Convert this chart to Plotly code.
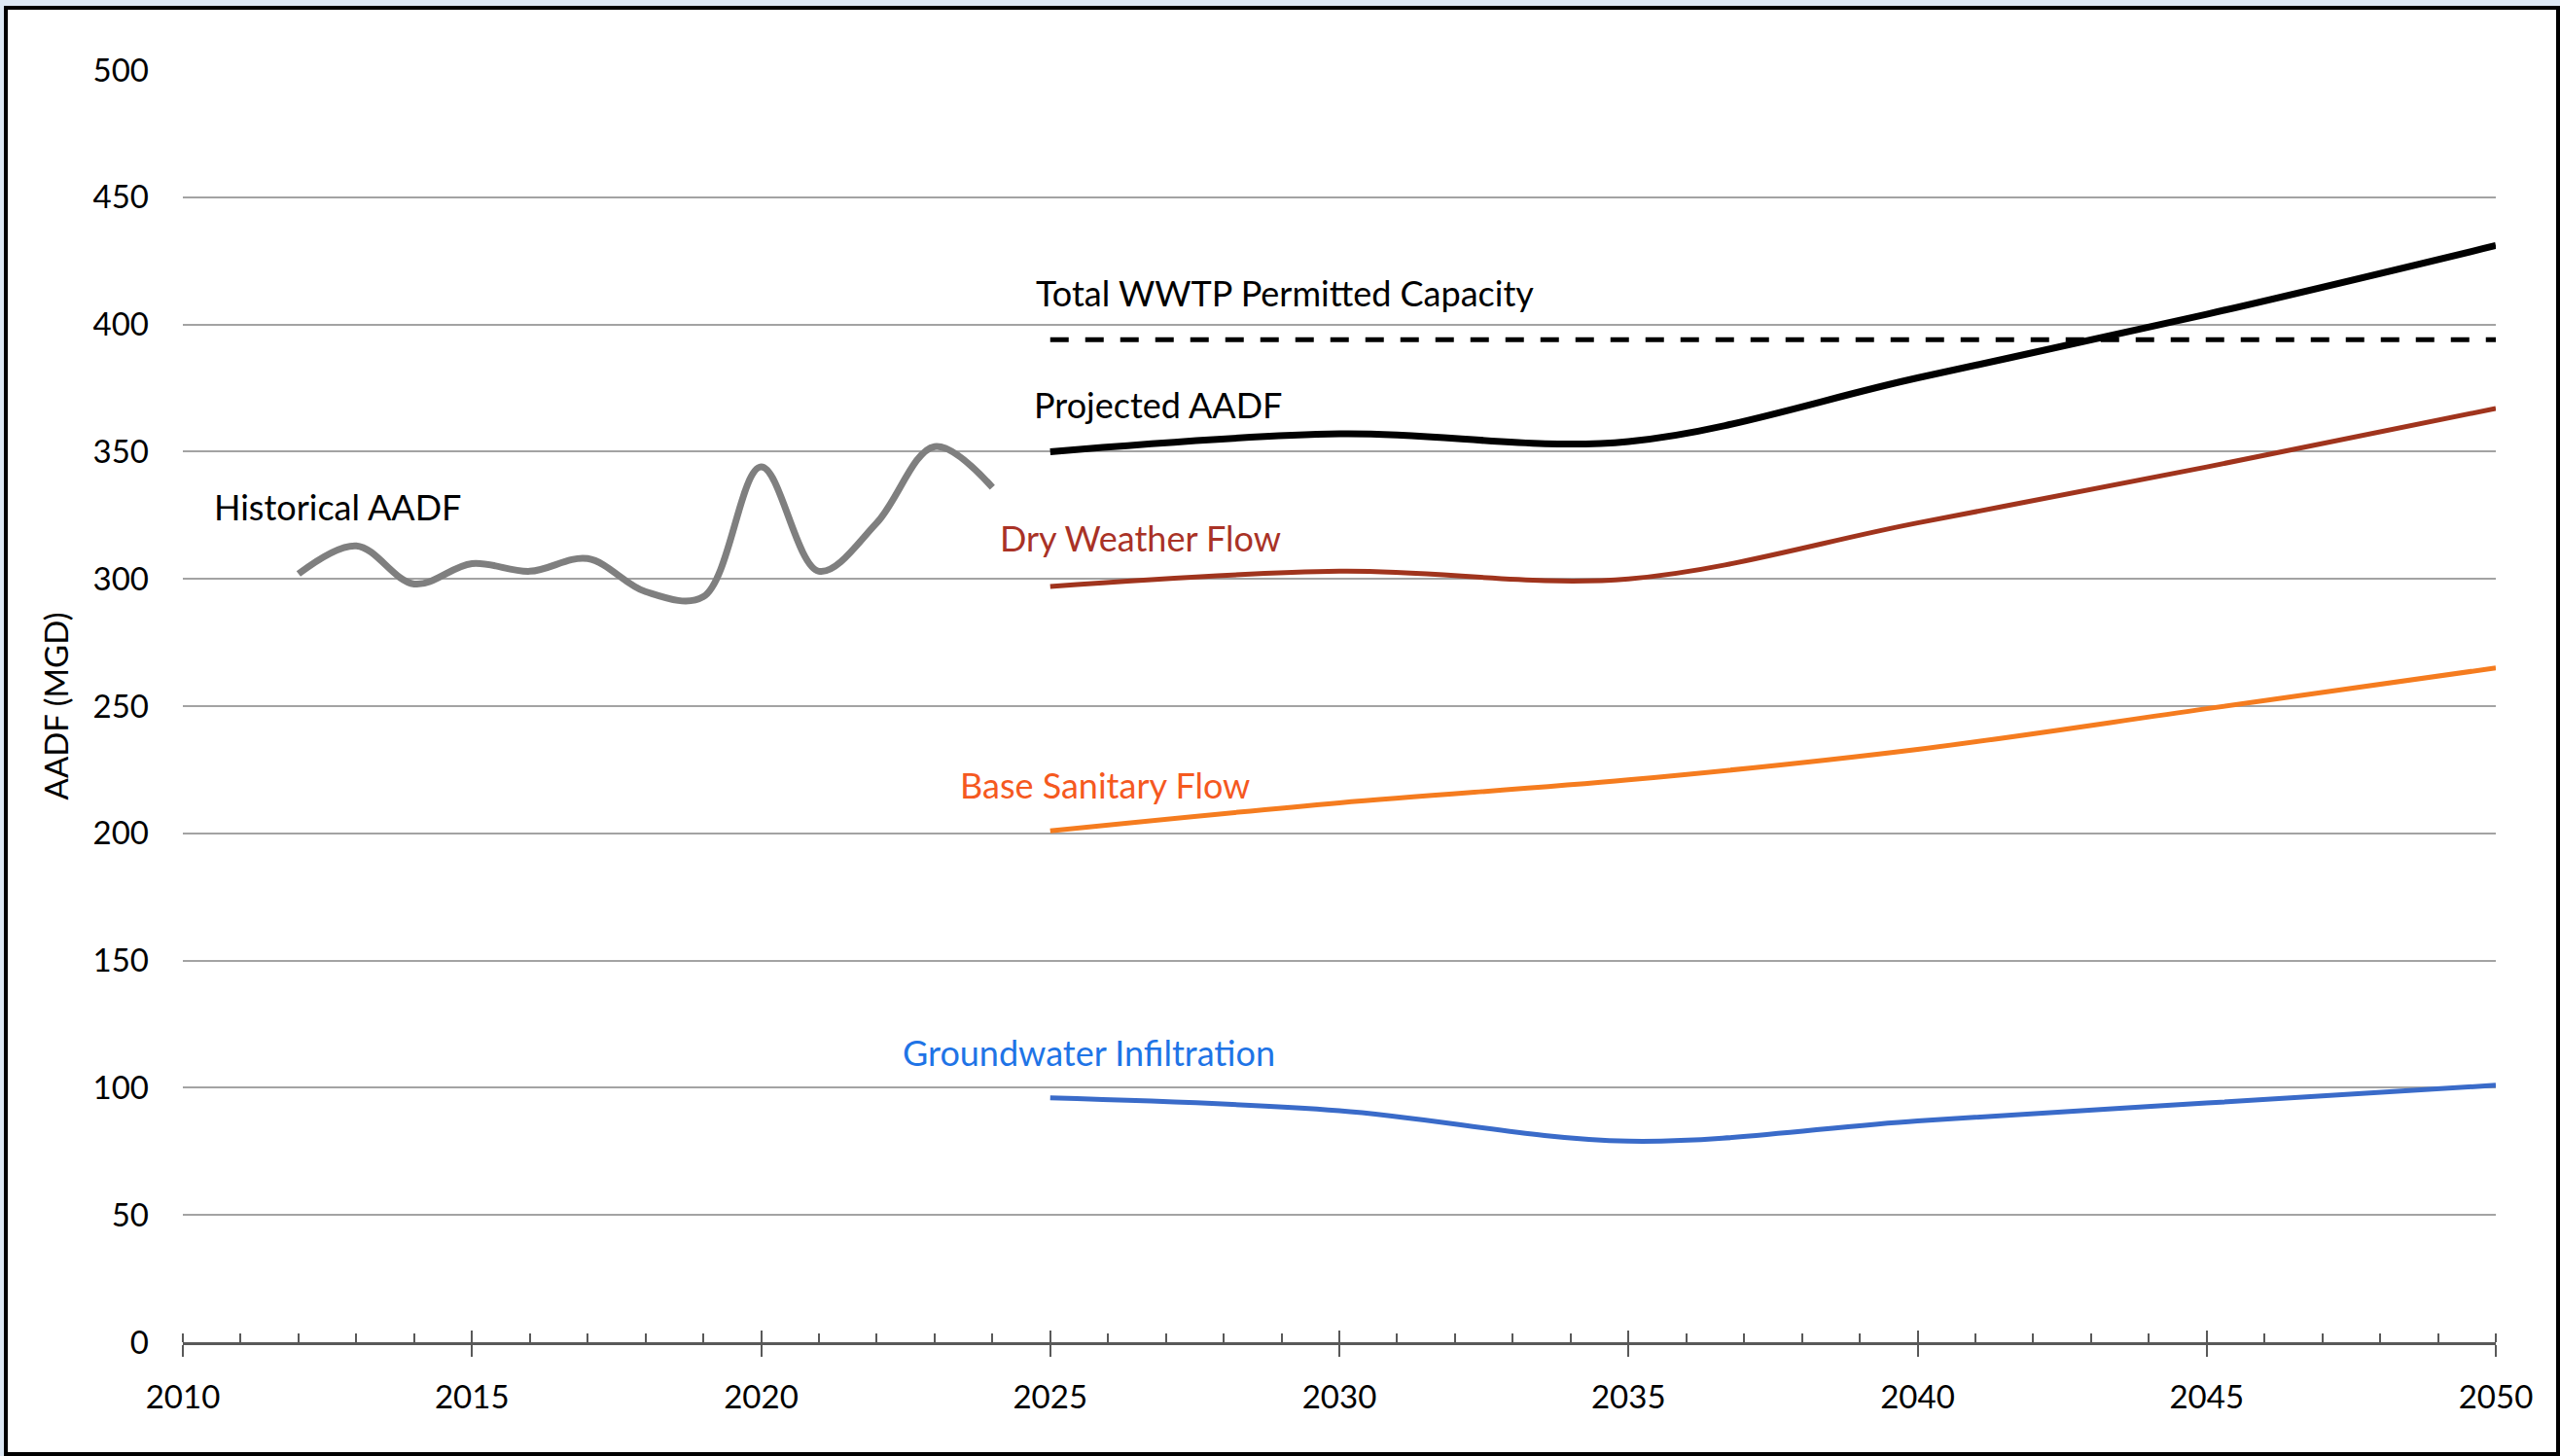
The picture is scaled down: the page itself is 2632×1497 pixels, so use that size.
import plotly.graph_objects as go

# ---------------- data ----------------
hist_years = [2012, 2013, 2014, 2015, 2016, 2017, 2018, 2019, 2020, 2021, 2022, 2023, 2024]
hist_aadf = [302, 313, 298, 306, 303, 308, 295, 293, 344, 303, 322, 352, 336]

proj_years = [2025, 2030, 2035, 2040, 2045, 2050]
projected_aadf = [350, 357, 354, 379, 404, 431]
dry_weather = [297, 303, 300, 322, 344, 367]
base_sanitary = [201, 212, 221, 233, 249, 265]
groundwater = [96, 91, 79, 87, 94, 101]

cap_years = [2025, 2050]
cap_value = [394, 394]

x_ticks = [2010, 2015, 2020, 2025, 2030, 2035, 2040, 2045, 2050]
y_ticks = [0, 50, 100, 150, 200, 250, 300, 350, 400, 450, 500]

# ---------------- layout constants ----------------
W, H = 2632, 1497
L, R, T, B = 188, 66, 72, 117
PW, PH = W - L - R, H - T - B
FONT = "Lato"
FS = 33
FS_LABEL = 36


def px_x(p):
    return (p - L) / PW


def px_y(p):
    return (H - B - p) / PH


fig = go.Figure()

fig.add_trace(go.Scatter(x=hist_years, y=hist_aadf, mode="lines",
                         line=dict(color="#7f7f7f", width=7, shape="spline"),
                         name="Historical AADF"))
fig.add_trace(go.Scatter(x=proj_years, y=groundwater, mode="lines",
                         line=dict(color="#3a6bc9", width=5, shape="spline"),
                         name="Groundwater Infiltration"))
fig.add_trace(go.Scatter(x=proj_years, y=base_sanitary, mode="lines",
                         line=dict(color="#f57c1f", width=5, shape="spline"),
                         name="Base Sanitary Flow"))
fig.add_trace(go.Scatter(x=proj_years, y=dry_weather, mode="lines",
                         line=dict(color="#a0341d", width=5, shape="spline"),
                         name="Dry Weather Flow"))
fig.add_trace(go.Scatter(x=cap_years, y=cap_value, mode="lines", xaxis="x2",
                         line=dict(color="black", width=5, dash="19px,17px"),
                         name="Total WWTP Permitted Capacity"))
fig.add_trace(go.Scatter(x=proj_years, y=projected_aadf, mode="lines",
                         line=dict(color="black", width=7, shape="spline"),
                         name="Projected AADF"))

labels = [
    ("Historical AADF", 2010.50, 328.5, "black"),
    ("Total WWTP Permitted Capacity", 2024.71, 412.5, "black"),
    ("Projected AADF", 2024.68, 368.5, "black"),
    ("Dry Weather Flow", 2024.09, 316.3, "#a93226"),
    ("Base Sanitary Flow", 2023.41, 219.0, "#f5591f"),
    ("Groundwater Infiltration", 2022.42, 114.0, "#1f74e6"),
]
for txt, lx, ly, col in labels:
    fig.add_annotation(x=lx, y=ly, xref="x", yref="y", text=txt, showarrow=False,
                       xanchor="left", yanchor="middle",
                       font=dict(family=FONT, size=FS_LABEL, color=col))

# outer frame
fig.add_shape(type="rect", xref="paper", yref="paper",
              x0=px_x(6), x1=px_x(2630), y0=px_y(1495), y1=px_y(8),
              line=dict(color="black", width=4), fillcolor="white", layer="below")

axis_col = "#595959"
fig.update_layout(
    width=W, height=H,
    margin=dict(l=L, r=R, t=T, b=B, pad=0),
    paper_bgcolor="#dde8f4",
    plot_bgcolor="white",
    showlegend=False,
    font=dict(family=FONT, size=FS, color="black"),
    xaxis=dict(range=[2010, 2050], tickvals=x_ticks, ticktext=[str(v) for v in x_ticks],
               showgrid=False, zeroline=False,
               showline=True, linecolor=axis_col, linewidth=2.5,
               ticks="outside", ticklen=12, tickwidth=2, tickcolor=axis_col,
               minor=dict(dtick=1, tick0=2010, ticks="inside", ticklen=9, tickwidth=2,
                          tickcolor=axis_col, showgrid=False),
               ticklabelstandoff=14,
               tickfont=dict(family=FONT, size=FS, color="black")),
    xaxis2=dict(range=[2010, 2050], overlaying="x", anchor="y", side="bottom",
                tickvals=x_ticks, showticklabels=False, showgrid=False, zeroline=False,
                showline=False, ticks="inside", ticklen=12, tickwidth=2, tickcolor=axis_col),
    yaxis=dict(range=[0, 500], tickvals=y_ticks, showgrid=True, gridcolor="#a3a3a3",
               gridwidth=2, zeroline=False, showline=False, ticks="",
               ticklabelstandoff=34,
               title=dict(text="AADF (MGD)", standoff=15,
                          font=dict(family=FONT, size=FS, color="black")),
               tickfont=dict(family=FONT, size=FS, color="black")),
)

fig.write_html("out.html", config={"displayModeBar": False},
               post_script="document.body.style.margin='0';document.body.style.overflow='hidden';")
